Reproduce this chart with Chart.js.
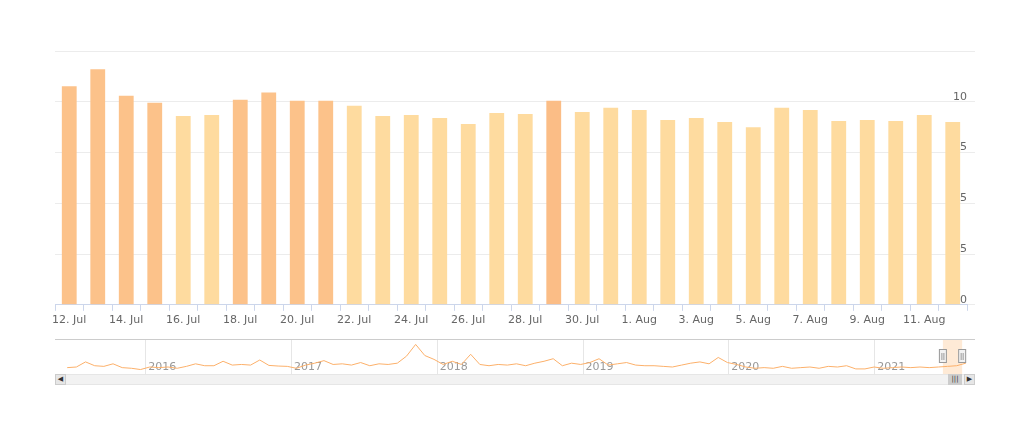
<!DOCTYPE html>
<html><head><meta charset="utf-8">
<script src="https://cdn.jsdelivr.net/npm/chart.js@4"></script>
<style>
body{margin:0;background:#fff;font-family:"Lucida Grande","DejaVu Sans",sans-serif}
#wrap{position:relative;width:1024px;height:434px}
#c1{position:absolute;left:0;top:0}
#c2{position:absolute;left:55px;top:339px}
#sb{position:absolute;left:55px;top:374px;width:920px;height:11px;background:#f2f2f2;border:1px solid #e6e6e6;box-sizing:border-box}
.ar{position:absolute;top:374px;width:11px;height:11px;background:#e6e6e6;border:1px solid #ccc;box-sizing:border-box;font-size:7px;line-height:9px;text-align:center;color:#333}
#thumb{position:absolute;left:948px;top:374px;width:14px;height:11px;background:#ccc;border:1px solid #ccc;box-sizing:border-box;font-size:7px;line-height:9px;text-align:center;color:#333}
</style></head><body>
<div id="wrap">
<canvas id="c1" width="1024" height="330"></canvas>
<canvas id="c2" width="920" height="35"></canvas>
<div id="sb"></div>
<div class="ar" style="left:55px">&#9664;</div>
<div class="ar" style="left:964px">&#9654;</div>
<div id="thumb">|||</div>
</div>
<script>
const categories = ["12. Jul","13. Jul","14. Jul","15. Jul","16. Jul","17. Jul","18. Jul","19. Jul","20. Jul","21. Jul","22. Jul","23. Jul","24. Jul","25. Jul","26. Jul","27. Jul","28. Jul","29. Jul","30. Jul","31. Jul","1. Aug","2. Aug","3. Aug","4. Aug","5. Aug","6. Aug","7. Aug","8. Aug","9. Aug","10. Aug","11. Aug","12. Aug"];
const values = [10.76,11.6,10.3,9.95,9.3,9.35,10.1,10.45,10.05,10.05,9.8,9.3,9.35,9.2,8.9,9.45,9.4,10.05,9.5,9.7,9.6,9.1,9.2,9.0,8.75,9.7,9.6,9.05,9.1,9.05,9.35,9.0];
const barColors = ["#fcc28a","#fcc28a","#fcc28a","#fcc28a","#fedb9f","#fedb9f","#fcc28a","#fcc28a","#fcc28a","#fcc28a","#fedb9f","#fedb9f","#fedb9f","#fedb9f","#fedb9f","#fedb9f","#fedb9f","#fbbd86","#fedb9f","#fedb9f","#fedb9f","#fedb9f","#fedb9f","#fedb9f","#fedb9f","#fedb9f","#fedb9f","#fedb9f","#fedb9f","#fedb9f","#fedb9f","#fedb9f"];
const yTicks = [0,2.5,5,7.5,10];
const navValues = [20,22,38,26,24,32,20,18,14,22,20,22,18,24,32,26,26,40,28,30,28,44,27,25,24,18,28,34,42,30,32,28,36,26,32,30,34,56,93,58,46,30,40,30,62,30,26,30,28,32,26,34,40,48,26,34,30,36,48,28,32,36,28,26,26,24,22,28,34,38,32,52,36,30,22,18,20,18,24,18,20,22,18,24,22,26,16,16,22,18,20,22,20,22,20,22,24,26,34];
const navYears = ["2016","2017","2018","2019","2020","2021"];
const navYearPos = [8.5,24.4,40.3,56.2,72.1,88.0];

const font = {family:"'Lucida Grande','DejaVu Sans',sans-serif",size:11};
new Chart(document.getElementById('c1'),{
  type:'bar',
  data:{labels:categories,datasets:[{data:values,backgroundColor:barColors,borderWidth:0,barPercentage:0.52,categoryPercentage:1}]},
  options:{responsive:false,animation:false,
    layout:{padding:{left:55,right:49,top:51,bottom:0}},
    plugins:{legend:{display:false},tooltip:{enabled:false}},
    scales:{
      x:{grid:{drawOnChartArea:false,color:'#ccd6eb',tickLength:6},border:{color:'#ccd6eb'},
        ticks:{autoSkip:false,maxRotation:0,color:'#666',font,callback:(v,i)=>i%2===0?categories[i]:''}},
      y:{position:'right',min:0,max:12.5,afterBuildTicks:a=>{a.ticks=yTicks.concat([12.5]).map(v=>({value:v}))},
        grid:{color:'#ececec'},border:{display:false},
        ticks:{mirror:true,padding:0,labelOffset:-5,color:'#666',font,callback:v=>yTicks.includes(v)?String(v):''}}
    }},
});

const navPlugin={id:'nav',
  beforeDatasetsDraw(ch){const c=ch.ctx,x=ch.scales.x,a=ch.chartArea;
    c.save();c.strokeStyle='#e6e6e6';c.lineWidth=1;
    navYearPos.forEach(p=>{const px=Math.round(x.getPixelForValue(p))+0.5;c.beginPath();c.moveTo(px,a.top);c.lineTo(px,a.bottom);c.stroke();});
    c.fillStyle='#999';c.font="11px 'DejaVu Sans',sans-serif";c.textBaseline='bottom';
    navYears.forEach((t,i)=>c.fillText(t,x.getPixelForValue(navYearPos[i])+3,a.bottom-1));
    c.fillStyle='rgba(252,194,138,0.35)';const l=x.getPixelForValue(95.5),r=x.getPixelForValue(97.6);c.fillRect(l,a.top,r-l,a.bottom-a.top);
    c.strokeStyle='#ccc';c.beginPath();c.moveTo(a.left,a.top+0.5);c.lineTo(a.right,a.top+0.5);c.stroke();
    c.restore();},
  afterDatasetsDraw(ch){const c=ch.ctx,x=ch.scales.x;
    [95.5,97.6].forEach(p=>{const px=x.getPixelForValue(p);c.fillStyle='#f2f2f2';c.strokeStyle='#999';c.fillRect(px-4,10,8,14);c.strokeRect(px-3.5,10.5,7,13);
      c.beginPath();c.moveTo(px-1,14);c.lineTo(px-1,21);c.moveTo(px+1,14);c.lineTo(px+1,21);c.stroke();});}
};
new Chart(document.getElementById('c2'),{
  type:'line',
  data:{datasets:[{data:navValues.map((v,i)=>({x:i,y:v})),borderColor:'#fcb06a',borderWidth:1,pointRadius:0,tension:0}]},
  options:{responsive:false,animation:false,layout:{padding:0},
    plugins:{legend:{display:false},tooltip:{enabled:false}},
    scales:{x:{type:'linear',min:-1.33,max:99,display:false},y:{min:0,max:110,display:false}}},
  plugins:[navPlugin]
});
</script>
</body></html>
